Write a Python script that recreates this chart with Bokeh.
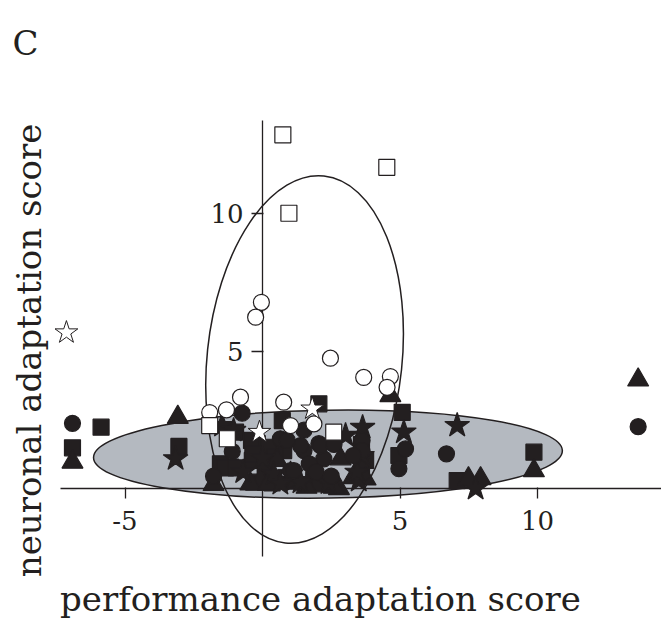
import math
from bokeh.plotting import figure
from bokeh.models import Range1d, FixedTicker, Label, LinearAxis
from bokeh.embed import file_html
from bokeh.resources import INLINE

# ---------------- data ----------------
x_ticks = [-5, 5, 10]
x_tick_labels = {-5: "-5", 5: "5", 10: "10"}
y_ticks = [5, 10]

# filled circles
fc_x = [-6.91, 13.66, -0.74, -1.10, -1.78, 5.20, 4.96, 6.69, 1.51, 2.05, 1.51, 2.23, 1.02, 0.65, 1.38, 2.11, 3.62, 3.62, 1.14,
        1.70, 2.60, 0.90, 1.95, 2.50, 3.30]
fc_y = [2.37, 2.25, 2.74, 1.35, 0.45, 1.44, 0.72, 1.26, 2.12, 1.63, 1.38, 1.08, 0.65, 1.81, 1.56, 1.56, 1.75, 1.38, 0.65,
        0.90, 1.60, 1.75, 0.60, 0.45, 1.20]
# filled squares
fs_x = [-5.87, -6.91, -3.04, -0.98, 2.05, 5.08, 4.96, 7.08, 9.87, 0.72, 1.93, -1.16, -0.37, -0.19, 0.23, 0.11, -0.32, 1.87, 1.87, 3.75, 0.77, -1.53,
        -1.35, -0.95, -0.40, -0.35, 0.10, 0.45, 2.10, 3.60, 3.60, 0.35]
fs_y = [2.23, 1.48, 1.53, 2.05, 3.08, 2.77, 1.20, 0.29, 1.32, 2.47, 0.17, 0.78, 1.02, 1.63, 1.50, 0.53, 0.23, 0.29, 0.65, 1.02, 1.38, 0.90,
        0.75, 0.75, 1.75, 1.25, 0.75, 1.15, 0.25, 0.80, 1.60, 0.20]
# filled triangles
ft_x = [-6.91, -3.08, 4.65, 9.87, 13.66, 7.93, 7.49, 2.84, 2.78, -1.78, -0.07, 2.59, 3.75, -0.44, 0.53,
        0.20, 1.60, 3.30, 0.90]
ft_y = [0.96, 2.59, 3.38, 0.65, 3.95, 0.36, 0.36, 1.08, 0.00, 0.15, 0.29, 0.05, 0.35, 0.17, 1.02,
        0.15, 0.05, 0.40, 0.20]
# filled stars
fst_x = [-3.16, -1.47, -1.05, 3.02, 3.64, 1.14, 3.50, 5.14, 7.08, 7.75, 1.02, 1.38, 3.44, 0.41, 0.65, 3.62,
         2.40, -0.70, 0.00]
fst_y = [1.08, 2.29, 2.11, 1.93, 2.22, 0.29, 0.29, 2.05, 2.29, 0.00, 0.53, 0.23, 0.59, 0.53, 0.18, 1.20,
         0.20, 0.60, 1.10]
# open circles
oc_x = [-0.04, -0.25, 2.47, 3.68, 4.65, 4.53, -0.80, -1.31, -1.92, 0.77, 1.02, 1.87]
oc_y = [6.77, 6.23, 4.74, 4.04, 4.07, 3.68, 3.32, 2.86, 2.76, 3.14, 2.29, 2.35]
# open squares
os_x = [0.74, 4.52, 0.96, -1.92, -1.28, 2.59]
os_y = [12.86, 11.68, 10.01, 2.29, 1.81, 2.05]
# open stars
ost_x = [-7.13, -0.11, 1.81]
ost_y = [5.67, 2.05, 2.90]

# ellipses: (center x, center y, width, height, angle)
gray_ell = dict(x=[2.38], y=[1.25], w=[17.05], h=[3.2], a=[0.015])
open_ell = dict(x=[1.53], y=[4.69], w=[7.09], h=[13.42], a=[-0.105])

# ---------------- layout ----------------
W, H = 661, 624
S = 27.5              # px per data unit
OX, OY = 262, 488     # origin in canvas px
x0, x1 = -OX / S, (W - OX) / S
y0, y1 = -(H - OY) / S, OY / S

def dx(px):  # canvas px -> data x
    return (px - OX) / S

def dy(py):  # canvas py -> data y
    return (OY - py) / S

INK = "#231f20"
FONT = "DejaVu Serif"

p = figure(width=W, height=H, x_range=Range1d(x0, x1), y_range=Range1d(y0, y1),
           output_backend="svg", toolbar_location=None, min_border=0,
           x_axis_location=None, y_axis_location=None)
p.grid.visible = False
p.outline_line_color = None
p.background_fill_color = "white"
p.border_fill_color = "white"

p.ellipse(x=gray_ell["x"], y=gray_ell["y"], width=gray_ell["w"], height=gray_ell["h"],
          angle=gray_ell["a"], fill_color="#b4b9c0", line_color=INK, line_width=1.5)

xa = LinearAxis(fixed_location=0, ticker=FixedTicker(ticks=x_ticks), bounds=(dx(60), x1))
ya = LinearAxis(fixed_location=0, ticker=FixedTicker(ticks=y_ticks), bounds=(dy(556), dy(120)))
xa.major_label_overrides = x_tick_labels
for ax in (xa, ya):
    ax.axis_line_color = INK
    ax.axis_line_width = 1.3
    ax.major_tick_line_color = INK
    ax.major_tick_line_width = 1.3
    ax.minor_tick_line_color = None
    ax.major_tick_in = 1
    ax.major_label_text_font = FONT
    ax.major_label_text_font_size = "26px"
    ax.major_label_text_color = INK
xa.major_tick_out = 10
xa.major_label_standoff = 12
ya.major_tick_out = 11
ya.major_label_standoff = 8
p.add_layout(xa, "below")
p.add_layout(ya, "left")

r = p.ellipse(x=open_ell["x"], y=open_ell["y"], width=open_ell["w"], height=open_ell["h"],
              angle=open_ell["a"], fill_color=None, line_color=INK, line_width=1.5)
r.level = "guide"

def pts(x, y, marker, size, fill, lw=1.2):
    rr = p.scatter(x=x, y=y, marker=marker, size=size, fill_color=fill,
                   line_color=INK, line_width=lw)
    rr.level = "overlay"
    return rr

pts(fs_x, fs_y, "square", 16, INK)
pts(ft_x, ft_y, "triangle", 21, INK)
pts(fst_x, fst_y, "star", 26, INK)
pts(fc_x, fc_y, "circle", 16, INK)
pts(oc_x, oc_y, "circle", 16, "white")
pts(os_x, os_y, "square", 16, "white")
pts(ost_x, ost_y, "star", 24, "white", 1.0)

# titles
p.add_layout(Label(x=dx(12), y=dy(42), text="C", text_font=FONT, text_font_size="34px",
                   text_color=INK, text_align="left", text_baseline="middle"))
p.add_layout(Label(x=dx(320), y=dy(598), text="performance adaptation score", text_font=FONT,
                   text_font_size="34px", text_color=INK, text_align="center", text_baseline="middle"))
p.add_layout(Label(x=dx(28), y=dy(350), text="neuronal adaptation score", text_font=FONT,
                   text_font_size="34px", text_color=INK, text_align="center", text_baseline="middle",
                   angle=math.pi / 2))

open("out.html", "w").write(file_html(p, INLINE))
